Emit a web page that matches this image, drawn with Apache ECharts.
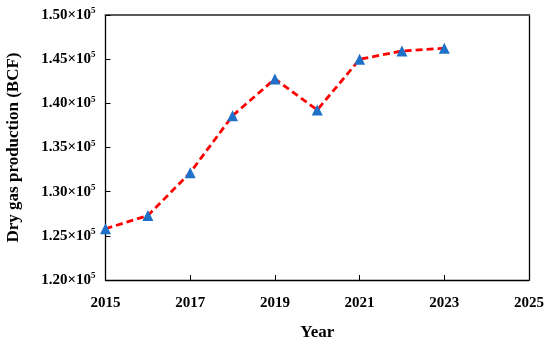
<!DOCTYPE html>
<html>
<head>
<meta charset="utf-8">
<script src="https://cdn.jsdelivr.net/npm/echarts@6/dist/echarts.min.js"></script>
<style>html,body{margin:0;padding:0;background:#fff}#c{width:550px;height:341px}</style>
</head>
<body>
<div id="c"></div>
<script>
const years = [2015, 2016, 2017, 2018, 2019, 2020, 2021, 2022, 2023];
const production = [125800, 127300, 132150, 138600, 142760, 139250, 144980, 145930, 146230];
const yTicks = [120000, 125000, 130000, 135000, 140000, 145000, 150000];
const xTicks = [2015, 2017, 2019, 2021, 2023, 2025];

const FONT = '"Liberation Serif", "DejaVu Serif", serif';
const chart = echarts.init(document.getElementById('c'));
chart.setOption({
  animation: false,
  backgroundColor: '#fff',
  grid: { left: 105.5, right: 21, top: 15, bottom: 61, containLabel: false, outerBoundsMode: 'none' },
  xAxis: [{
    type: 'value', min: xTicks[0], max: xTicks[xTicks.length - 1], interval: 2,
    name: 'Year', nameLocation: 'middle', nameGap: 44,
    nameTextStyle: { fontFamily: FONT, fontWeight: 'bold', fontSize: 17, color: '#000' },
    axisLine: { lineStyle: { color: '#000', width: 1.3 } },
    axisTick: { inside: true, length: 5, lineStyle: { color: '#000' } },
    axisLabel: { fontFamily: FONT, fontWeight: 'bold', fontSize: 15, color: '#000', margin: 16, formatter: v => String(v) },
    splitLine: { show: false }
  }, {
    type: 'value', position: 'top', min: xTicks[0], max: xTicks[xTicks.length - 1], interval: 2,
    axisLine: { lineStyle: { color: '#5a5a5a', width: 2 } },
    axisTick: { show: false }, axisLabel: { show: false }, splitLine: { show: false }
  }],
  yAxis: [{
    type: 'value', min: yTicks[0], max: yTicks[yTicks.length - 1], interval: 5000,
    name: 'Dry gas production (BCF)', nameLocation: 'middle', nameGap: 83,
    nameTextStyle: { fontFamily: FONT, fontWeight: 'bold', fontSize: 17, color: '#000' },
    axisLine: { show: true, lineStyle: { color: '#000', width: 1.3 } },
    axisTick: { show: true, inside: true, length: 5, lineStyle: { color: '#000' } },
    axisLabel: {
      fontFamily: FONT, fontWeight: 'bold', fontSize: 15, color: '#000', margin: 10,
      formatter: v => '{a|' + (v / 100000).toFixed(2) + '×10}{b|5}',
      rich: {
        a: { fontFamily: FONT, fontWeight: 'bold', fontSize: 15, color: '#000' },
        b: { fontFamily: FONT, fontWeight: 'bold', fontSize: 9, color: '#000', padding: [0, 0, 8, 0] }
      }
    },
    splitLine: { show: false }
  }, {
    type: 'value', position: 'right', min: yTicks[0], max: yTicks[yTicks.length - 1], interval: 5000,
    axisLine: { show: true, lineStyle: { color: '#000', width: 1.3 } },
    axisTick: { show: false }, axisLabel: { show: false }, splitLine: { show: false }
  }],
  series: [{
    type: 'line',
    data: years.map((y, i) => [y, production[i]]),
    lineStyle: { color: '#ff0000', width: 2.8, type: [7, 4] },
    symbol: 'triangle', symbolSize: 11,
    itemStyle: { color: '#1f70c8' },
    z: 3
  }]
});
</script>
</body>
</html>
